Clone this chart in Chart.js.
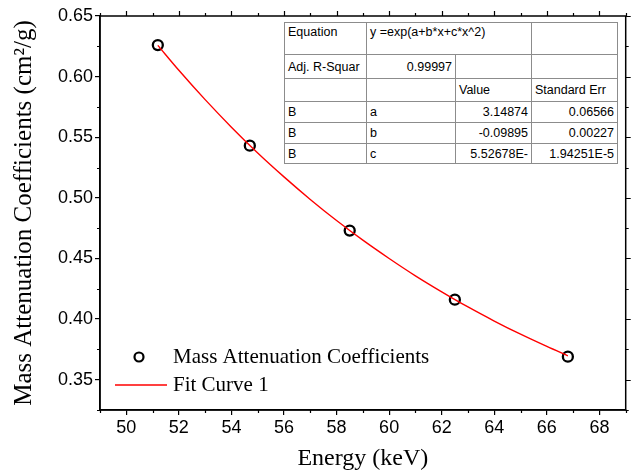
<!DOCTYPE html>
<html>
<head>
<meta charset="utf-8">
<script src="https://cdn.jsdelivr.net/npm/chart.js@4.4.0/dist/chart.umd.min.js"></script>
<style>
  body { margin: 0; background: #fff; }
  #wrap { position: relative; width: 633px; height: 471px; }
  #fit-table {
    position: absolute; left: 284px; top: 22px; width: 333px;
    table-layout: fixed; border-collapse: collapse; background: #fff;
    font: 12.5px "Liberation Sans", Arial, sans-serif; color: #000;
    border: 1.5px solid #222;
  }
  #fit-table td {
    border: 1px solid #8c8c8c; padding: 0 3px; white-space: nowrap;
    overflow: hidden; vertical-align: middle;
  }
  #fit-table td.num { text-align: right; }
  #fit-table tr.first td { vertical-align: top; padding-top: 2px; }
</style>
</head>
<body>
<div id="wrap">
  <canvas id="mac-chart" width="633" height="471"></canvas>
  <table id="fit-table"></table>
</div>
<script>
// measured points
const energyKeV = [51.2, 54.7, 58.5, 62.5, 66.8];
const massAttCoeff = [0.626, 0.543, 0.473, 0.416, 0.369];

// fit curve
const fitEnergy = [51.2, 52, 53, 54, 55, 56, 57, 58, 59, 60, 61, 62, 63, 64, 65, 66, 66.8];
const fitValues = [0.6258, 0.6052, 0.5810, 0.5583, 0.5370, 0.5173, 0.4987, 0.4813, 0.4651,
  0.4500, 0.4357, 0.4225, 0.4100, 0.3984, 0.3875, 0.3774, 0.3697];

// axis ticks
const xTickValues = [50, 52, 54, 56, 58, 60, 62, 64, 66, 68];
const xMinorTicks = [49, 51, 53, 55, 57, 59, 61, 63, 65, 67, 69];
const yTickValues = [0.35, 0.40, 0.45, 0.50, 0.55, 0.60, 0.65];
const yMinorTicks = [0.325, 0.375, 0.425, 0.475, 0.525, 0.575, 0.625];

// fit result table
const fitEquation = "y =exp(a+b*x+c*x^2)";
const adjRSquare = "0.99997";
const paramNames = ["a", "b", "c"];
const paramValues = ["3.14874", "-0.09895", "5.52678E-"];
const paramErrors = ["0.06566", "0.00227", "1.94251E-5"];

const serif = '"Liberation Serif", "Times New Roman", serif';
const sans = '"Liberation Sans", Arial, sans-serif';

// table
function buildTable() {
  const t = document.getElementById("fit-table");
  const widths = [82, 89, 76, 86];
  const heights = [32, 24, 23, 21, 21, 20];
  let html = "<colgroup>" + widths.map((w) => '<col style="width:' + w + 'px">').join("") + "</colgroup>";
  html += '<tr class="first" style="height:' + heights[0] + 'px"><td>Equation</td><td colspan="2">' + fitEquation + "</td><td></td></tr>";
  html += '<tr style="height:' + heights[1] + 'px"><td>Adj. R-Squar</td><td class="num">' + adjRSquare + "</td><td></td><td></td></tr>";
  html += '<tr style="height:' + heights[2] + 'px"><td></td><td></td><td>Value</td><td>Standard Err</td></tr>';
  paramNames.forEach((p, i) => {
    html += '<tr style="height:' + heights[3 + i] + 'px"><td>B</td><td>' + p + '</td><td class="num">' +
      paramValues[i] + '</td><td class="num">' + paramErrors[i] + "</td></tr>";
  });
  t.innerHTML = html;
}
buildTable();

// frame, minor ticks, mirrored ticks and inner legend
const framePlugin = {
  id: "framePlugin",
  afterDraw(chart) {
    const ctx = chart.ctx;
    const a = chart.chartArea;
    const xs = chart.scales.x;
    const ys = chart.scales.y;
    ctx.save();
    ctx.strokeStyle = "#000";
    ctx.lineWidth = 1.5;
    ctx.strokeRect(a.left, a.top, a.right - a.left, a.bottom - a.top);

    ctx.lineWidth = 1.2;
    ctx.beginPath();
    xMinorTicks.forEach((v) => {
      const px = Math.round(xs.getPixelForValue(v)) + 0.5;
      ctx.moveTo(px, a.bottom); ctx.lineTo(px, a.bottom + 3);
      ctx.moveTo(px, a.top); ctx.lineTo(px, a.top - 3);
    });
    xTickValues.forEach((v) => {
      const px = Math.round(xs.getPixelForValue(v)) + 0.5;
      ctx.moveTo(px, a.top); ctx.lineTo(px, a.top - 5);
    });
    yMinorTicks.forEach((v) => {
      const py = Math.round(ys.getPixelForValue(v)) + 0.5;
      ctx.moveTo(a.left, py); ctx.lineTo(a.left - 3, py);
      ctx.moveTo(a.right, py); ctx.lineTo(a.right + 3, py);
    });
    yTickValues.forEach((v) => {
      const py = Math.round(ys.getPixelForValue(v)) + 0.5;
      ctx.moveTo(a.right, py); ctx.lineTo(a.right + 5, py);
    });
    ctx.stroke();

    // legend
    const row1 = a.bottom - 53;
    const row2 = a.bottom - 25;
    ctx.lineWidth = 2.2;
    ctx.beginPath();
    ctx.arc(a.left + 39, row1, 4.5, 0, Math.PI * 2);
    ctx.stroke();
    ctx.strokeStyle = "#ff0000";
    ctx.lineWidth = 1.4;
    ctx.beginPath();
    ctx.moveTo(a.left + 15, row2);
    ctx.lineTo(a.left + 67, row2);
    ctx.stroke();
    ctx.fillStyle = "#000";
    ctx.font = "21px " + serif;
    ctx.textBaseline = "middle";
    ctx.fillText("Mass Attenuation Coefficients", a.left + 73, row1);
    ctx.fillText("Fit Curve 1", a.left + 73, row2);
    ctx.restore();
  },
};

const ctx = document.getElementById("mac-chart").getContext("2d");
new Chart(ctx, {
  type: "scatter",
  data: {
    datasets: [
      {
        label: "Fit Curve 1",
        type: "line",
        data: fitEnergy.map((x, i) => ({ x: x, y: fitValues[i] })),
        borderColor: "#ff0000",
        borderWidth: 1.4,
        pointRadius: 0,
        fill: false,
        cubicInterpolationMode: "monotone",
        order: 0,
      },
      {
        label: "Mass Attenuation Coefficients",
        data: energyKeV.map((x, i) => ({ x: x, y: massAttCoeff[i] })),
        pointStyle: "circle",
        pointRadius: 5,
        pointBorderWidth: 2.3,
        pointBorderColor: "#000",
        pointBackgroundColor: "rgba(0,0,0,0)",
        order: 1,
      },
    ],
  },
  options: {
    responsive: false,
    animation: false,
    layout: { padding: { top: 16, right: 4, left: 0, bottom: 0 } },
    plugins: { legend: { display: false }, tooltip: { enabled: false } },
    scales: {
      x: {
        type: "linear",
        min: 49,
        max: 69,
        afterBuildTicks: (s) => { s.ticks = xTickValues.map((v) => ({ value: v })); },
        afterFit: (s) => { s.height = 61; },
        ticks: { color: "#000", font: { family: sans, size: 18 }, padding: 2, maxRotation: 0 },
        grid: { drawOnChartArea: false, tickLength: 5, color: "#000", lineWidth: 1.2 },
        border: { color: "#000", width: 1.5 },
        title: {
          display: true, text: "Energy (keV)", color: "#000",
          font: { family: serif, size: 24, lineHeight: 1 }, padding: { top: 0, bottom: 0 },
        },
      },
      y: {
        min: 0.325,
        max: 0.65,
        afterBuildTicks: (s) => { s.ticks = yTickValues.map((v) => ({ value: v })); },
        afterFit: (s) => { s.width = 100; },
        ticks: { color: "#000", font: { family: sans, size: 18 }, padding: 2, callback: (v) => v.toFixed(2) },
        grid: { drawOnChartArea: false, tickLength: 5, color: "#000", lineWidth: 1.2 },
        border: { color: "#000", width: 1.5 },
        title: {
          display: true, text: "Mass Attenuation Coefficients (cm\u00b2/g)", color: "#000",
          font: { family: serif, size: 25 }, padding: { top: 9, bottom: 0 },
        },
      },
    },
  },
  plugins: [framePlugin],
});
</script>
</body>
</html>
